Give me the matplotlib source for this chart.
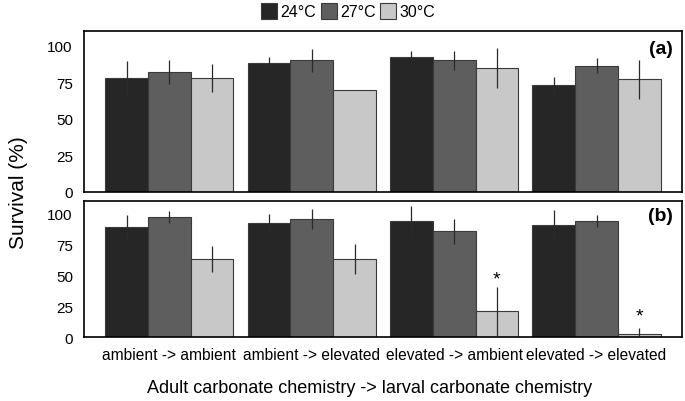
import numpy as np
import matplotlib.pyplot as plt

plt.rcParams['font.family'] = ['Liberation Sans', 'DejaVu Sans']

groups = ["ambient -> ambient", "ambient -> elevated", "elevated -> ambient", "elevated -> elevated"]
temps = ["24°C", "27°C", "30°C"]
colors = ["#262626", "#5e5e5e", "#c8c8c8"]

# panel (a)
surv_a = [[78, 88.5, 92, 73],
          [82, 90, 90, 86.5],
          [78, 70, 85, 77]]
err_a = [[11.7, 4, 4.6, 5.8],
         [8, 8, 6.5, 5],
         [9.5, 0, 13.8, 13.6]]

# panel (b)
surv_b = [[88.5, 92, 93.5, 90.3],
          [97, 95.4, 85.4, 93.5],
          [63.3, 63.3, 21, 2.7]]
err_b = [[10, 7, 12.3, 12.5],
         [5, 8.2, 10.3, 5],
         [10.4, 12, 19.8, 5]]

star_group = [2, 3]
star_y = [47, 17]

fig = plt.figure(figsize=(6.85, 4.02), dpi=100)
ax_a = fig.add_axes([0.1226, 0.520, 0.873, 0.400])
ax_b = fig.add_axes([0.1226, 0.159, 0.873, 0.339])

x = np.arange(len(groups))
w = 0.30

def draw(ax, vals, errs, tag):
    for i in range(3):
        ax.bar(x + (i - 1) * w, vals[i], w, color=colors[i], edgecolor="#3a3a3a",
               linewidth=0.8, label=temps[i], zorder=2)
        ax.errorbar(x + (i - 1) * w, vals[i], yerr=errs[i], fmt="none",
                    ecolor="#2a2a2a", elinewidth=0.9, capsize=0, zorder=3)
    ax.set_xlim(-0.6, 3.6)
    ax.set_ylim(0, 110)
    ax.set_yticks([0, 25, 50, 75, 100])
    ax.tick_params(axis="y", labelsize=11, length=0, pad=8)
    ax.tick_params(axis="x", length=0)
    for s in ax.spines.values():
        s.set_linewidth(1.2)
    ax.text(0.985, 0.895, tag, transform=ax.transAxes, ha="right", va="center",
            fontsize=14, fontweight="bold")

draw(ax_a, surv_a, err_a, "(a)")
draw(ax_b, surv_b, err_b, "(b)")
ax_a.set_xticks([])
ax_b.set_xticks(x)
ax_b.set_xticklabels(groups, fontsize=11.2)
ax_b.tick_params(axis="x", pad=7)

for g, yv in zip(star_group, star_y):
    ax_b.text(g + w, yv, "*", ha="center", va="center", fontsize=14)

fig.text(0.54, 1 - 389 / 402, "Adult carbonate chemistry -> larval carbonate chemistry",
         ha="center", va="center", fontsize=13)
fig.text(0.027, 0.52, "Survival (%)", rotation=90, ha="center", va="center", fontsize=15)

handles, labels = ax_a.get_legend_handles_labels()
fig.legend(handles, labels, loc="center", bbox_to_anchor=(0.508, 0.97), ncol=3,
           frameon=False, fontsize=11.5, handlelength=1.0, handleheight=1.2,
           handletextpad=0.2, columnspacing=0.3, borderpad=0)

fig.savefig("out.png", dpi=100)
